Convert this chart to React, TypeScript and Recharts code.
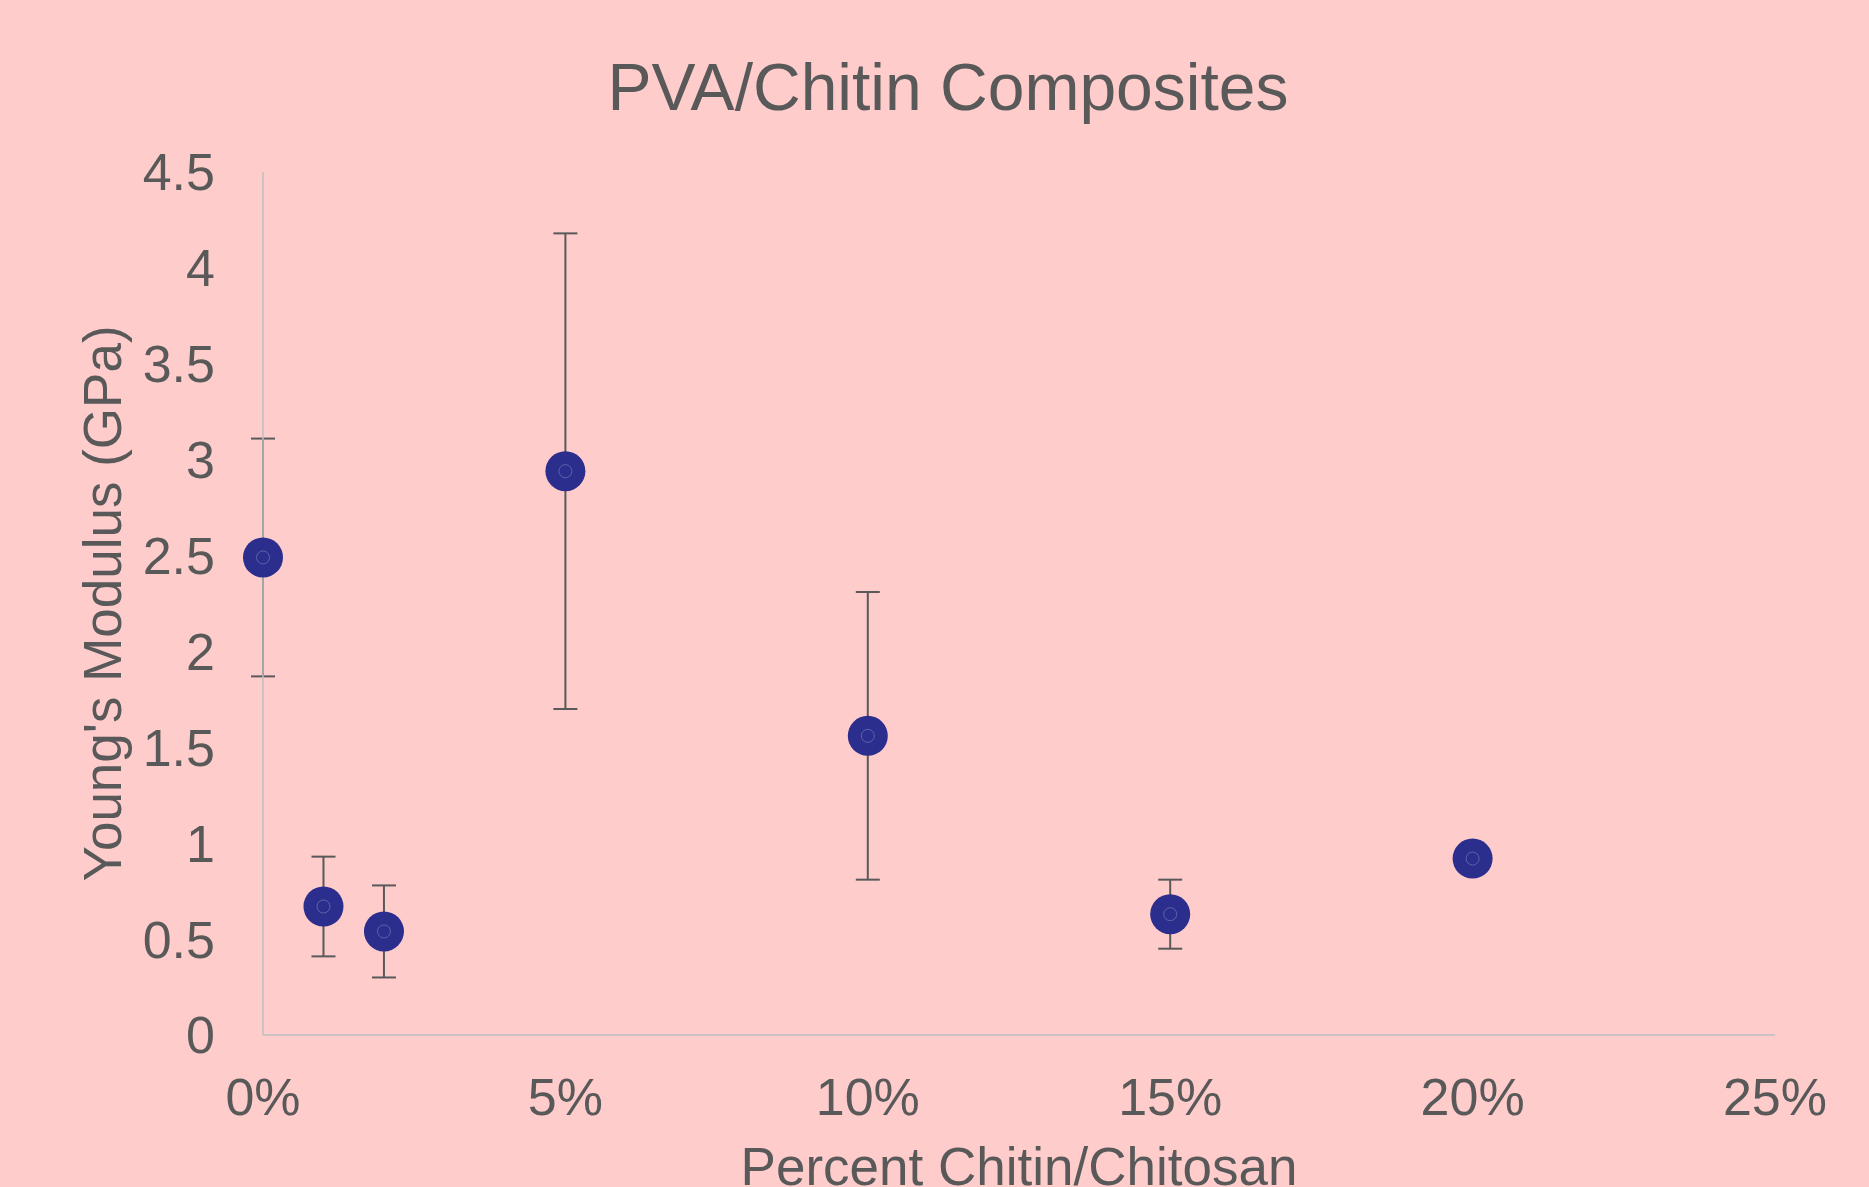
import { ScatterChart, Scatter, XAxis, YAxis, ErrorBar, Label } from "recharts";

// percent chitin/chitosan loading
const loadings: number[] = [0, 1, 2, 5, 10, 15, 20];
// Young's modulus (GPa)
const modulus: number[] = [2.49, 0.67, 0.54, 2.94, 1.56, 0.63, 0.92];
// standard deviation
const stdDev: number[] = [0.62, 0.26, 0.24, 1.24, 0.75, 0.18, 0];

const xTicks: number[] = [0, 5, 10, 15, 20, 25];
const yTicks: number[] = [0, 0.5, 1, 1.5, 2, 2.5, 3, 3.5, 4, 4.5];

const points = loadings.map((x, i) => ({ x, y: modulus[i], err: stdDev[i] }));

const FONT = "'Liberation Sans', Arial, sans-serif";
const TEXT = "#595959";
const AXIS = "#BFBFBF";
const MARKER = "#2B2E8C";

const Dot = (props: any) => {
  const { cx, cy } = props;
  return (
    <g>
      <circle cx={cx} cy={cy} r={20} fill={MARKER} />
      <circle cx={cx} cy={cy} r={6.5} fill="none" stroke="#6C6DB0" strokeWidth={0.8} />
    </g>
  );
};

export default function App() {
  return (
    <div
      style={{
        position: "absolute",
        left: 0,
        top: 0,
        width: 1869,
        height: 1187,
        background: "#FFCCCC",
        fontFamily: FONT,
        overflow: "hidden",
      }}
    >
      <div
        style={{
          position: "absolute",
          top: 47,
          left: 0,
          width: 1896,
          textAlign: "center",
          fontSize: 66,
          color: TEXT,
          lineHeight: "80px",
        }}
      >
        PVA/Chitin Composites
      </div>
      <ScatterChart
        width={1869}
        height={1187}
        margin={{ top: 172, right: 94, bottom: 0, left: 0 }}
      >
        <XAxis
          type="number"
          dataKey="x"
          domain={[0, 25]}
          ticks={xTicks}
          tickFormatter={(v: number) => `${v}%`}
          height={152}
          tickLine={false}
          tickSize={0}
          tickMargin={43}
          axisLine={{ stroke: AXIS, strokeWidth: 1.5 }}
          tick={{ fill: TEXT, fontSize: 52, fontFamily: FONT }}
          interval={0}
        >
          <Label
            content={(p: any) => {
              const vb = p.viewBox;
              return (
                <text
                  x={vb.x + vb.width / 2}
                  y={vb.y + vb.height - 2}
                  textAnchor="middle"
                  fill={TEXT}
                  fontSize={53}
                  fontFamily={FONT}
                >
                  Percent Chitin/Chitosan
                </text>
              );
            }}
          />
        </XAxis>
        <YAxis
          type="number"
          dataKey="y"
          domain={[0, 4.5]}
          ticks={yTicks}
          width={263}
          tickLine={false}
          tickSize={0}
          tickMargin={48}
          axisLine={{ stroke: AXIS, strokeWidth: 1.5 }}
          tick={{ fill: TEXT, fontSize: 52, fontFamily: FONT }}
          interval={0}
        >
          <Label
            content={(p: any) => {
              const vb = p.viewBox;
              const cx = 121;
              const cy = vb.y + vb.height / 2;
              return (
                <text
                  x={cx}
                  y={cy}
                  transform={`rotate(-90, ${cx}, ${cy})`}
                  textAnchor="middle"
                  fill={TEXT}
                  fontSize={53}
                  fontFamily={FONT}
                >
                  Young's Modulus (GPa)
                </text>
              );
            }}
          />
        </YAxis>
        <Scatter data={points} shape={Dot} isAnimationActive={false}>
          <ErrorBar
            dataKey="err"
            direction="y"
            width={12}
            stroke={TEXT}
            strokeWidth={2}
            isAnimationActive={false}
          />
        </Scatter>
      </ScatterChart>
    </div>
  );
}
